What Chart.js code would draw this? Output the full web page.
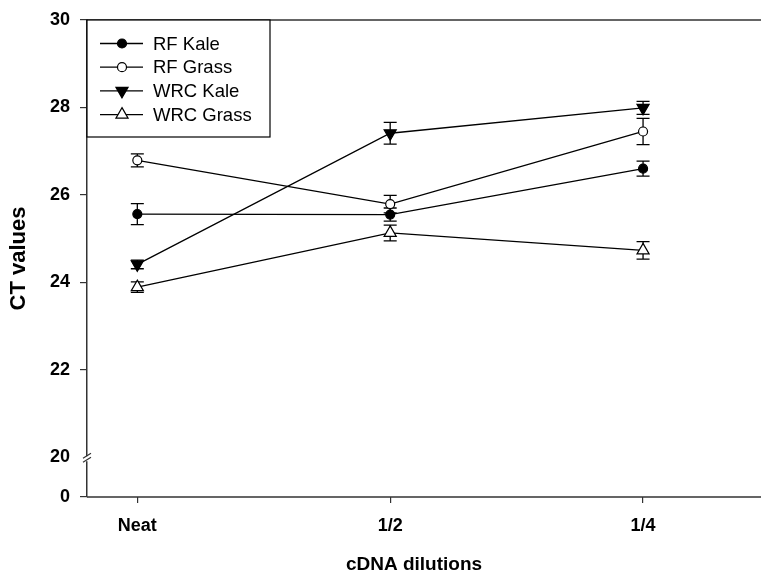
<!DOCTYPE html>
<html>
<head>
<meta charset="utf-8">
<script src="https://cdn.jsdelivr.net/npm/chart.js@4.4.1/dist/chart.umd.min.js"></script>
<style>
  html, body { margin: 0; padding: 0; background: #fff; overflow: hidden; }
  canvas { display: block; }
</style>
</head>
<body>
<canvas id="ct" width="761" height="575"></canvas>
<script>
// x categories
const dilutions = ['Neat', '1/2', '1/4'];

// mean CT values
const rfKale   = [25.56, 25.55, 26.60];
const rfGrass  = [26.79, 25.79, 27.45];
const wrcKale  = [24.41, 27.41, 27.99];
const wrcGrass = [23.89, 25.13, 24.73];

// error bars (+/-)
const rfKaleErr   = [0.24, 0.15, 0.17];
const rfGrassErr  = [0.15, 0.20, 0.30];
const wrcKaleErr  = [0.10, 0.25, 0.15];
const wrcGrassErr = [0.12, 0.18, 0.20];

const yTicks = [20, 22, 24, 26, 28, 30];
const breakValue = 19.09;   // where "0" sits below the axis break

const ink = '#000';
const axisColor = '#333';
const tickFont = { family: "'Liberation Sans', Arial, sans-serif", size: 18, weight: 'bold' };

function toPoints(vals) {
  return vals.map((v, i) => ({ x: i, y: v }));
}

function series(label, vals, errs, style, filled, rotation, radius) {
  return {
    label: label,
    data: toPoints(vals),
    errors: errs,
    borderColor: ink,
    borderWidth: 1.3,
    pointStyle: style,
    rotation: rotation,
    pointRadius: radius,
    pointHoverRadius: radius,
    pointBorderWidth: 1.2,
    pointBorderColor: ink,
    pointBackgroundColor: filled ? ink : '#fff',
    fill: false,
    tension: 0
  };
}

const datasets = [
  series('RF Kale', rfKale, rfKaleErr, 'circle', true, 0, 4.5),
  series('RF Grass', rfGrass, rfGrassErr, 'circle', false, 0, 4.5),
  series('WRC Kale', wrcKale, wrcKaleErr, 'triangle', true, 180, 7),
  series('WRC Grass', wrcGrass, wrcGrassErr, 'triangle', false, 0, 7)
];

// error bars under the markers
const errorBars = {
  id: 'errorBars',
  beforeDatasetsDraw(chart) {
    const ctx = chart.ctx;
    const xs = chart.scales.x, ys = chart.scales.y;
    ctx.save();
    ctx.strokeStyle = ink;
    ctx.lineWidth = 1.3;
    chart.data.datasets.forEach(ds => {
      ds.data.forEach((p, j) => {
        const e = ds.errors[j];
        const x = xs.getPixelForValue(p.x);
        const top = ys.getPixelForValue(p.y + e);
        const bot = ys.getPixelForValue(p.y - e);
        ctx.beginPath();
        ctx.moveTo(x, top); ctx.lineTo(x, bot);
        ctx.moveTo(x - 6.5, top); ctx.lineTo(x + 6.5, top);
        ctx.moveTo(x - 6.5, bot); ctx.lineTo(x + 6.5, bot);
        ctx.stroke();
      });
    });
    ctx.restore();
  }
};

// frame lines, axis break, titles, legend box
const decorations = {
  id: 'decorations',
  afterDraw(chart) {
    const ctx = chart.ctx;
    const area = chart.chartArea;
    const ys = chart.scales.y;
    ctx.save();

    // top frame line and x axis line, both run on to the canvas edge
    ctx.strokeStyle = axisColor;
    ctx.lineWidth = 1.5;
    ctx.beginPath();
    ctx.moveTo(area.left, area.top);
    ctx.lineTo(chart.width, area.top);
    ctx.moveTo(area.left, area.bottom);
    ctx.lineTo(chart.width, area.bottom);
    ctx.stroke();

    // axis break
    const yb = ys.getPixelForValue(20);
    ctx.fillStyle = '#fff';
    ctx.fillRect(area.left - 1.5, yb - 1, 3, 5);
    ctx.strokeStyle = axisColor;
    ctx.lineWidth = 1.2;
    ctx.beginPath();
    ctx.moveTo(area.left - 4, yb + 1); ctx.lineTo(area.left + 4, yb - 4);
    ctx.moveTo(area.left - 4, yb + 5); ctx.lineTo(area.left + 4, yb);
    ctx.stroke();

    // axis titles
    ctx.fillStyle = ink;
    ctx.textAlign = 'center';
    ctx.textBaseline = 'middle';
    ctx.font = "bold 19px 'Liberation Sans', Arial, sans-serif";
    ctx.fillText('cDNA dilutions', 414, 565);
    ctx.font = "bold 22px 'Liberation Sans', Arial, sans-serif";
    ctx.save();
    ctx.translate(19, (area.top + area.bottom) / 2);
    ctx.rotate(-Math.PI / 2);
    ctx.fillText('CT values', 0, 0);
    ctx.restore();

    // legend
    const lx = area.left, ly = area.top;
    ctx.fillStyle = '#fff';
    ctx.fillRect(lx, ly, 183, 117);
    ctx.strokeStyle = ink;
    ctx.lineWidth = 1.2;
    ctx.strokeRect(lx, ly, 183, 117);
    ctx.font = "18.5px 'Liberation Sans', Arial, sans-serif";
    ctx.textAlign = 'left';
    chart.data.datasets.forEach((ds, i) => {
      const ry = ly + 23.5 + i * 23.7;
      ctx.strokeStyle = ink;
      ctx.lineWidth = 1.3;
      ctx.beginPath();
      ctx.moveTo(lx + 13, ry); ctx.lineTo(lx + 56, ry);
      ctx.stroke();
      ctx.fillStyle = ds.pointBackgroundColor;
      ctx.lineWidth = ds.pointBorderWidth;
      Chart.helpers.drawPoint(ctx, {
        pointStyle: ds.pointStyle,
        rotation: ds.rotation,
        radius: ds.pointRadius,
        borderWidth: ds.pointBorderWidth
      }, lx + 35, ry);
      ctx.fillStyle = ink;
      ctx.fillText(ds.label, lx + 66, ry + 1);
    });
    ctx.restore();
  }
};

const noPadding = () => ({ left: 0, top: 0, right: 0, bottom: 0 });

new Chart(document.getElementById('ct'), {
  type: 'line',
  data: { datasets: datasets },
  plugins: [errorBars, decorations],
  options: {
    responsive: false,
    animation: false,
    layout: { padding: { top: 20, right: 0, left: 0, bottom: 0 } },
    plugins: { legend: { display: false }, tooltip: { enabled: false } },
    scales: {
      x: {
        type: 'linear',
        min: -0.199,
        max: 2.434,
        afterFit(scale) {
          scale.height = 78;
          scale.paddingLeft = 0;
          scale.paddingRight = 0;
          scale.getPadding = noPadding;
        },
        afterBuildTicks(scale) {
          scale.ticks = dilutions.map((d, i) => ({ value: i }));
        },
        ticks: {
          color: ink,
          font: tickFont,
          padding: 12,
          maxRotation: 0,
          callback: v => dilutions[v]
        },
        grid: { display: true, drawOnChartArea: false, drawTicks: true, tickLength: 6, color: axisColor, lineWidth: 1.2 },
        border: { display: false }
      },
      y: {
        type: 'linear',
        min: breakValue,
        max: 30,
        afterFit(scale) {
          scale.width = 87;
          scale.getPadding = noPadding;
        },
        afterBuildTicks(scale) {
          scale.ticks = [{ value: breakValue }].concat(yTicks.map(v => ({ value: v })));
        },
        ticks: {
          color: ink,
          font: tickFont,
          padding: 10,
          callback: v => (v < 20 ? '0' : String(v))
        },
        grid: {
          display: true, drawOnChartArea: false, drawTicks: true, tickLength: 7, lineWidth: 1.2,
          color: c => (c.tick && c.tick.value === 20 ? 'rgba(0,0,0,0)' : axisColor)
        },
        border: { display: true, color: axisColor, width: 1.5 }
      }
    }
  }
});
</script>
</body>
</html>
